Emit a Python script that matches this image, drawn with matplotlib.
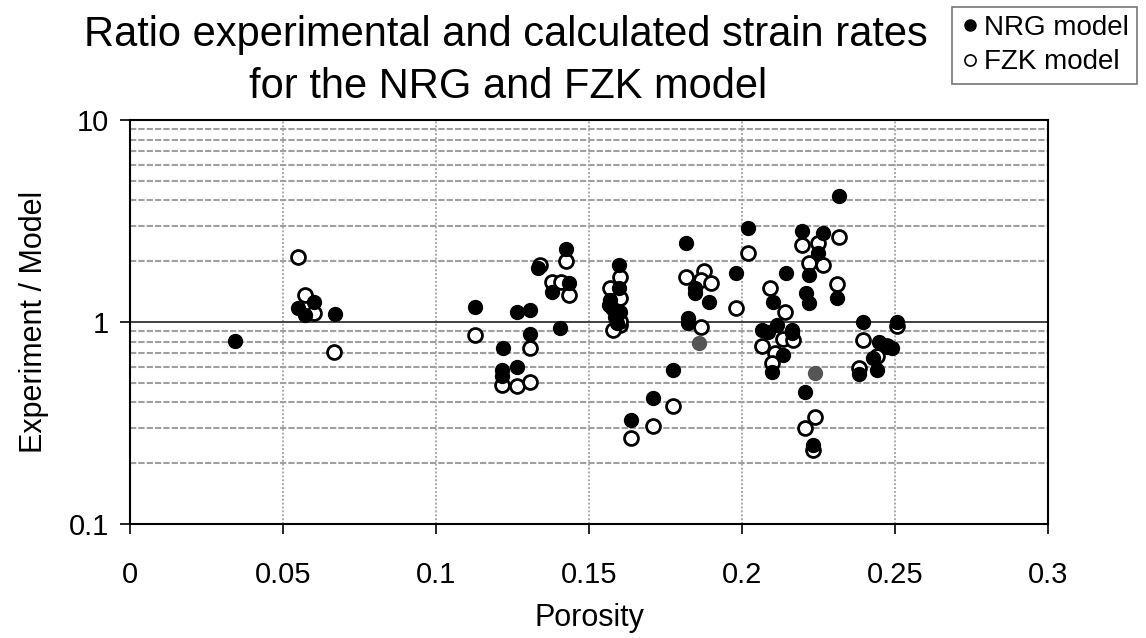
import matplotlib
matplotlib.use("Agg")
import matplotlib.pyplot as plt
from matplotlib.ticker import FixedLocator, FuncFormatter, LogLocator, NullFormatter
from matplotlib.lines import Line2D

plt.rcParams['font.family'] = ['Liberation Sans', 'DejaVu Sans']

# NRG model (filled markers)
nrg_porosity = [0.0343, 0.0549, 0.0572, 0.0601, 0.0670,
                0.1127, 0.1265, 0.1307, 0.1307, 0.1219, 0.1216, 0.1216, 0.1265,
                0.1333, 0.1380, 0.1435, 0.1425, 0.1405,
                0.1598, 0.1598, 0.1569, 0.1575, 0.1602, 0.1585, 0.1592, 0.1565,
                0.1817, 0.1845, 0.1848, 0.1892, 0.1824, 0.1824,
                0.1775, 0.1709, 0.1637, 0.1980,
                0.2317, 0.2020, 0.2196, 0.2265, 0.2248, 0.2220, 0.2144, 0.2100,
                0.2310, 0.2210, 0.2220,
                0.2065, 0.2085, 0.2114, 0.2163, 0.2163, 0.2134, 0.2098, 0.2206, 0.2232,
                0.2395, 0.2507, 0.2448, 0.2474, 0.2428, 0.2441, 0.2382, 0.2490]
nrg_ratio = [0.805, 1.17, 1.08, 1.26, 1.10,
             1.19, 1.12, 1.15, 0.87, 0.74, 0.58, 0.54, 0.60,
             1.85, 1.41, 1.56, 2.30, 0.93,
             1.91, 1.47, 1.29, 1.17, 1.12, 1.06, 0.99, 1.21,
             2.46, 1.47, 1.39, 1.26, 1.05, 0.99,
             0.58, 0.42, 0.327, 1.75,
             4.20, 2.92, 2.82, 2.76, 2.20, 1.71, 1.75, 1.26,
             1.31, 1.39, 1.24,
             0.91, 0.89, 0.97, 0.91, 0.88, 0.69, 0.565, 0.45, 0.245,
             1.00, 1.00, 0.80, 0.75, 0.66, 0.58, 0.55, 0.74]

# two NRG points that appear grey in the print
nrg_grey_porosity = [0.1860, 0.2239]
nrg_grey_ratio = [0.79, 0.56]

# FZK model (open markers)
fzk_porosity = [0.0549, 0.0572, 0.0601, 0.0667,
                0.1127, 0.1307, 0.1216, 0.1265, 0.1307,
                0.1340, 0.1380, 0.1410, 0.1435, 0.1425,
                0.1601, 0.1569, 0.1601, 0.1601, 0.1580, 0.1602,
                0.1817, 0.1876, 0.1866, 0.1900, 0.1866,
                0.1775, 0.1709, 0.1637, 0.1980,
                0.2020, 0.2196, 0.2248, 0.2317, 0.2220, 0.2265, 0.2090, 0.2140, 0.2310,
                0.2134, 0.2167, 0.2065, 0.2108, 0.2098, 0.2239, 0.2206, 0.2232,
                0.2395, 0.2507, 0.2441, 0.2382, 0.2474]
fzk_ratio = [2.10, 1.36, 1.11, 0.71,
             0.86, 0.74, 0.49, 0.48, 0.505,
             1.92, 1.58, 1.58, 1.36, 2.00,
             1.67, 1.47, 1.31, 0.97, 0.91, 1.01,
             1.67, 1.79, 1.61, 1.56, 0.94,
             0.384, 0.306, 0.267, 1.17,
             2.20, 2.40, 2.46, 2.64, 1.96, 1.92, 1.47, 1.12, 1.54,
             0.82, 0.81, 0.76, 0.70, 0.63, 0.34, 0.30, 0.232,
             0.81, 0.96, 0.68, 0.59, 0.76]

x_ticks = [0, 0.05, 0.1, 0.15, 0.2, 0.25, 0.3]
x_tick_labels = ["0", "0.05", "0.1", "0.15", "0.2", "0.25", "0.3"]

fig = plt.figure(figsize=(11.46, 6.38), dpi=100)
ax = fig.add_axes([0.1134, 0.1787, 0.8011, 0.6333])

ax.set_yscale('log')
ax.set_xlim(0, 0.3)
ax.set_ylim(0.1, 10)

# grid: light grey minor lines, dark line at the decades
ax.yaxis.set_minor_locator(LogLocator(base=10, subs=range(2, 10)))
ax.yaxis.set_minor_formatter(NullFormatter())
ax.grid(which='minor', axis='y', color='#a0a0a0', linestyle=(0, (3, 1)), linewidth=1.5)
ax.grid(which='major', axis='y', color='#333333', linestyle='-', linewidth=1.3)
ax.grid(which='major', axis='x', color='#aaaaaa', linestyle=(0, (1, 1)), linewidth=1.4)
ax.set_axisbelow(True)

ax.scatter(fzk_porosity, fzk_ratio, s=100, facecolors='white', edgecolors='black',
           linewidths=2.0, zorder=3)
ax.scatter(nrg_porosity, nrg_ratio, s=100, c='black', edgecolors='black',
           linewidths=1.0, zorder=4)
ax.scatter(nrg_grey_porosity, nrg_grey_ratio, s=100, c='#555555', edgecolors='#555555',
           linewidths=1.0, zorder=4)

ax.xaxis.set_major_locator(FixedLocator(x_ticks))
ax.set_xticklabels(x_tick_labels)
ax.yaxis.set_major_locator(FixedLocator([0.1, 1, 10]))
ax.yaxis.set_major_formatter(FuncFormatter(lambda v, p: "%g" % v))
ax.tick_params(axis='both', which='major', labelsize=21, length=7, width=1.2)
ax.tick_params(axis='x', which='major', pad=20)
ax.tick_params(axis='y', which='major', pad=8)
ax.tick_params(axis='y', which='minor', length=0)

for sp in ax.spines.values():
    sp.set_linewidth(1.5)

ax.set_xlabel('Porosity', fontsize=22, labelpad=10)
ax.set_ylabel('Experiment / Model', fontsize=22, labelpad=14)

fig.text(0.441, 0.945, 'Ratio experimental and calculated strain rates', fontsize=30,
         ha='center', va='center')
fig.text(0.443, 0.864, 'for the NRG and FZK model', fontsize=30, ha='center', va='center')

handles = [Line2D([], [], marker='o', linestyle='none', markerfacecolor='black',
                  markeredgecolor='black', markersize=8, label='NRG model'),
           Line2D([], [], marker='o', linestyle='none', markerfacecolor='white',
                  markeredgecolor='black', markeredgewidth=1.2, markersize=8, label='FZK model')]
leg = fig.legend(handles=handles, loc='upper right', bbox_to_anchor=(0.997, 0.998),
                 fontsize=20, frameon=True, fancybox=False, edgecolor='#555555',
                 handletextpad=0.15, handlelength=0.7, borderpad=0.3, labelspacing=0.3,
                 borderaxespad=0.2)
leg.get_frame().set_linewidth(1.2)

fig.savefig('out.png', dpi=100)
